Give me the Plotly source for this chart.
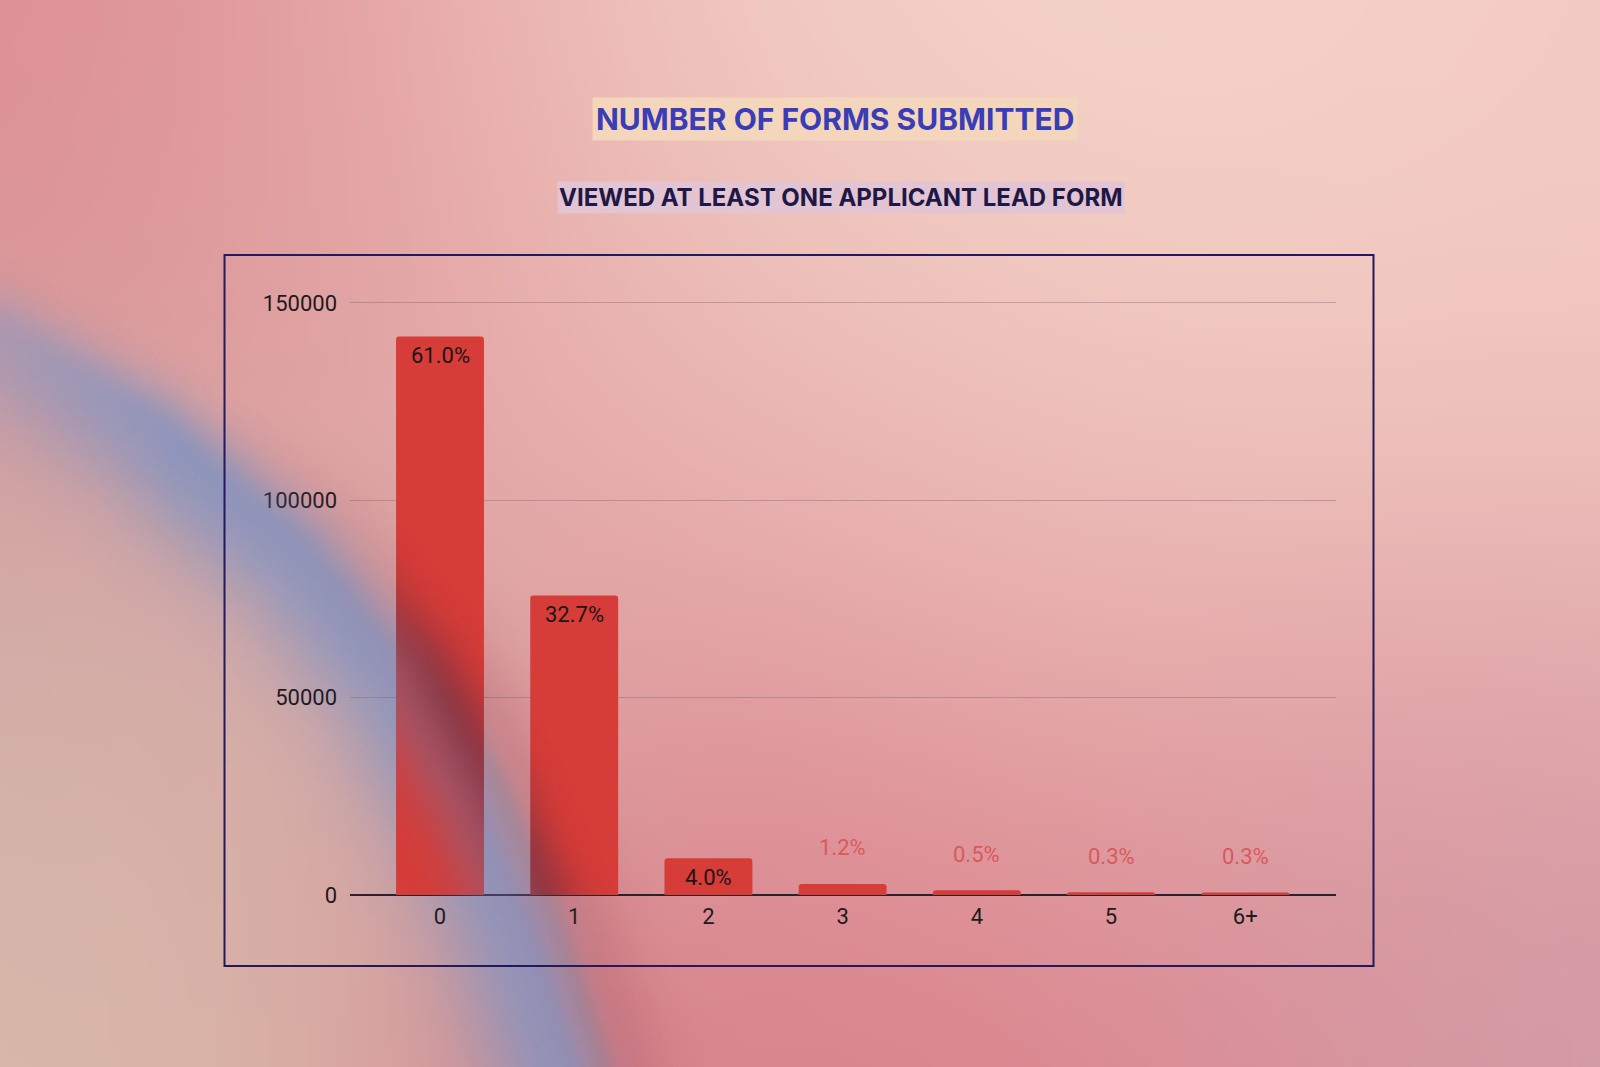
import numpy as np
import zlib, struct, base64
import plotly.graph_objects as go

# ---------------- data ----------------
categories = ["0", "1", "2", "3", "4", "5", "6+"]
counts = [141500, 75900, 9300, 2800, 1200, 700, 650]
share_labels = ["61.0%", "32.7%", "4.0%", "1.2%", "0.5%", "0.3%", "0.3%"]
y_ticks = [0, 50000, 100000, 150000]
y_tick_text = ["0", "50000", "100000", "150000"]
title_text = "NUMBER OF FORMS SUBMITTED"
subtitle_text = "VIEWED AT LEAST ONE APPLICANT LEAD FORM"

# ---------------- background gradient (decoration) ----------------
W, H = 1600, 1067
S = 5
gw, gh = W // S, H // S + 1
ys, xs = np.mgrid[0:gh, 0:gw]
X = xs * S + S / 2.0
Y = ys * S + S / 2.0

ctrl = [
    (0, 0, 222, 138, 142), (250, 100, 226, 150, 152), (500, 40, 240, 192, 188),
    (800, 40, 245, 212, 200), (1200, 40, 246, 214, 203), (1590, 30, 245, 202, 194),
    (100, 250, 216, 145, 150), (380, 330, 226, 165, 165), (800, 350, 237, 192, 187),
    (1200, 350, 242, 204, 196), (1560, 420, 242, 202, 194), (700, 650, 226, 160, 162),
    (1100, 650, 232, 176, 173), (1500, 720, 226, 162, 166), (680, 960, 214, 125, 135),
    (1000, 1010, 220, 130, 140), (1380, 960, 214, 140, 150), (1590, 1010, 205, 162, 175),
    (40, 1050, 220, 185, 170), (230, 820, 214, 180, 170), (0, 620, 205, 175, 170),
]
num = np.zeros((gh, gw, 3))
den = np.zeros((gh, gw))
for px, py, r, g, b in ctrl:
    wgt = np.exp(-((X - px) ** 2 + (Y - py) ** 2) / (2 * 230.0 ** 2))
    num += wgt[..., None] * np.array([r, g, b], float)
    den += wgt
target = num / den[..., None]

band = [(-250, 250), (0, 335), (150, 425), (300, 550), (400, 675), (470, 805),
        (525, 935), (568, 1067), (610, 1250)]
best = np.full(X.shape, 1e9)
sg = np.ones(X.shape)
for (x0, y0), (x1, y1) in zip(band[:-1], band[1:]):
    dx, dy = x1 - x0, y1 - y0
    L2 = dx * dx + dy * dy
    t = np.clip(((X - x0) * dx + (Y - y0) * dy) / L2, 0, 1)
    d = np.hypot(X - (x0 + t * dx), Y - (y0 + t * dy))
    cr = dx * (Y - y0) - dy * (X - x0)
    m = d < best
    best = np.where(m, d, best)
    sg = np.where(m, np.sign(cr), sg)
sd = -sg * best  # positive = upper-right (pink) side

k = np.clip(0.55 + X / 500.0, 0.55, 0.9)
sl = np.where(sd < 0, 85.0, 38.0)
wb = k * np.exp(-(sd / sl) ** 2)
blue = np.array([136, 150, 192], float)
target = target * (1 - wb[..., None]) + blue * wb[..., None]
grow = np.clip((Y - 400) / 300.0, 0, 1)
ws = 0.35 * grow * np.exp(-((sd - 55) / 50.0) ** 2)
shadow = np.array([180, 90, 105], float)
target = target * (1 - ws[..., None]) + shadow * ws[..., None]

# overlay (tints the bars where the band crosses them)
a_blue = 0.36 * np.exp(-((sd + 10) / 40.0) ** 2)
a_dark = 0.38 * grow * np.exp(-((sd - 32) / 33.0) ** 2)
alpha = np.clip(a_blue + a_dark, 0, 0.6)
ov_col = (np.array([110, 120, 165], float) * a_blue[..., None]
          + np.array([70, 35, 60], float) * a_dark[..., None]) / np.maximum(alpha, 1e-6)[..., None]
bg = (target - alpha[..., None] * ov_col) / (1 - alpha[..., None])
bg = np.clip(bg, 0, 255).astype(np.uint8)
ov = np.concatenate([np.clip(ov_col, 0, 255), (alpha * 255)[..., None]], axis=2).astype(np.uint8)


def png_uri(arr):
    h, w, c = arr.shape
    raw = b"".join(b"\x00" + arr[i].tobytes() for i in range(h))

    def chunk(t, d):
        return struct.pack(">I", len(d)) + t + d + struct.pack(">I", zlib.crc32(t + d) & 0xFFFFFFFF)

    ct = 6 if c == 4 else 2
    png = (b"\x89PNG\r\n\x1a\n" + chunk(b"IHDR", struct.pack(">IIBBBBB", w, h, 8, ct, 0, 0, 0))
           + chunk(b"IDAT", zlib.compress(raw, 9)) + chunk(b"IEND", b""))
    return "data:image/png;base64," + base64.b64encode(png).decode()


# ---------------- figure ----------------
Y_TOP = 151000
L, R, T, B = 350, 264, 299, 172
pw, ph = W - L - R, H - T - B

def px_x(p):
    return (p - L) / pw

def px_y(p):
    return (H - B - p) / ph

fig = go.Figure()
fig.add_trace(go.Bar(
    x=categories, y=counts,
    marker=dict(color="#d63c38", cornerradius=3, line=dict(width=0)),
    hoverinfo="skip",
))

for cat, v, lab in zip(categories, counts, share_labels):
    inside = float(lab.rstrip("%")) >= 2
    fig.add_annotation(
        x=cat, y=v, xref="x", yref="y", text=lab, showarrow=False,
        yanchor="middle", yshift=-19 if inside else 36,
        font=dict(family="Roboto", size=22, color="#1c1519" if inside else "#d85a5c"),
    )

fig.add_annotation(
    x=px_x(835), y=px_y(119), xref="paper", yref="paper", text=title_text,
    showarrow=False, xanchor="center", yanchor="middle",
    font=dict(family="Inter", size=30, color="#3a3db5", weight=700),
    bgcolor="#f4d6bc", borderpad=3,
)
fig.add_annotation(
    x=px_x(841), y=px_y(197), xref="paper", yref="paper", text=subtitle_text,
    showarrow=False, xanchor="center", yanchor="middle",
    font=dict(family="Inter", size=24, color="#1d1846", weight=700),
    bgcolor="#e2c4d2", borderpad=1,
)

fig.add_shape(type="rect", xref="paper", yref="paper",
              x0=px_x(224.5), x1=px_x(1373.5), y0=px_y(966), y1=px_y(255),
              line=dict(color="#221a5c", width=2), fillcolor="rgba(0,0,0,0)")

fig.update_layout(
    width=W, height=H,
    margin=dict(l=L, r=R, t=T, b=B),
    paper_bgcolor="rgba(0,0,0,0)", plot_bgcolor="rgba(0,0,0,0)",
    bargap=0.345, showlegend=False,
    font=dict(family="Roboto", size=22, color="#1e1a1e"),
    images=[
        dict(source=png_uri(bg), xref="paper", yref="paper", x=px_x(0), y=px_y(0),
             sizex=W / pw, sizey=H / ph, xanchor="left", yanchor="top",
             sizing="stretch", layer="below"),
        dict(source=png_uri(ov), xref="paper", yref="paper", x=px_x(0), y=px_y(0),
             sizex=W / pw, sizey=H / ph, xanchor="left", yanchor="top",
             sizing="stretch", layer="above"),
    ],
    xaxis=dict(type="category", range=[-0.6706, 6.676], showgrid=False, showline=False,
               ticks="", ticklabelstandoff=6, tickfont=dict(size=22, color="#1e1a1e")),
    yaxis=dict(range=[0, Y_TOP], tickvals=y_ticks, ticktext=y_tick_text,
               showgrid=True, gridcolor="rgba(115,100,100,0.38)", gridwidth=1,
               zeroline=True, zerolinecolor="#2a2030", zerolinewidth=2,
               showline=False, ticks="", ticklabelstandoff=12,
               tickfont=dict(size=22, color="#1e1a1e")),
)

fig.write_html("out.html")
